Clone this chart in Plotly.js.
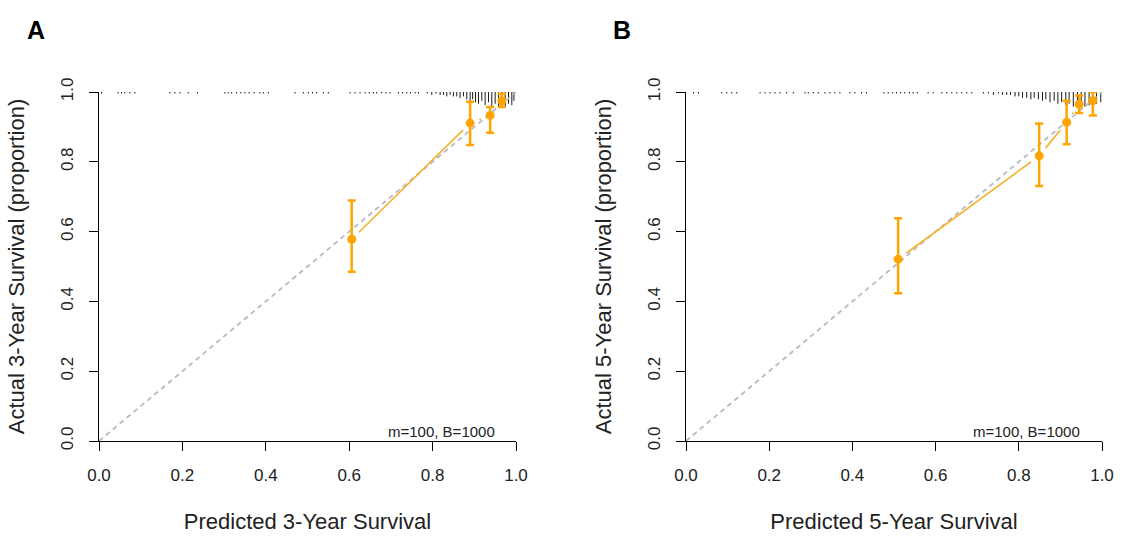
<!DOCTYPE html>
<html>
<head>
<meta charset="utf-8">
<script src="https://cdn.plot.ly/plotly-3.0.1.min.js"></script>
<style>
  html, body { margin: 0; padding: 0; background: #fff; }
  #chart { width: 1123px; height: 539px; }
</style>
</head>
<body>
<div id="chart"></div>
<script>
// ---- Calibration groups, 3-year model (panel A) ----
const predA   = [0.606, 0.890, 0.938, 0.966];
const actualA = [0.578, 0.911, 0.933, 0.975];
const lowerA  = [0.485, 0.848, 0.883, 0.957];
const upperA  = [0.689, 0.972, 0.957, 0.995];

// ---- Calibration groups, 5-year model (panel B) ----
const predB   = [0.510, 0.849, 0.915, 0.945, 0.978];
const actualB = [0.521, 0.817, 0.913, 0.965, 0.975];
const lowerB  = [0.423, 0.731, 0.850, 0.940, 0.933];
const upperB  = [0.638, 0.910, 0.975, 0.990, 1.000];

// ---- Distribution of predicted values (rug at the top), value and frequency ----
const rugXA = [0.006, 0.046, 0.054, 0.062, 0.074, 0.086, 0.170, 0.182, 0.194, 0.214, 0.236,
  0.302, 0.310, 0.318, 0.330, 0.340, 0.350, 0.360, 0.372, 0.386, 0.394, 0.406,
  0.470, 0.490, 0.502, 0.512, 0.522, 0.538, 0.550,
  0.602, 0.614, 0.626, 0.638, 0.648, 0.658, 0.666, 0.678, 0.688, 0.698,
  0.718, 0.728, 0.738, 0.747, 0.758, 0.766,
  0.787, 0.798, 0.808, 0.818, 0.826, 0.834, 0.842, 0.850, 0.858, 0.866, 0.874, 0.882,
  0.890, 0.896, 0.903, 0.910, 0.918, 0.926, 0.934, 0.942, 0.950, 0.958, 0.966, 0.974,
  0.982, 0.990, 0.995];
const rugNA = [1, 1, 1, 1, 1, 1, 1, 1, 1, 1, 1,
  1, 1, 1, 1, 1, 1, 1, 1, 1, 1, 1,
  1, 1, 1, 1, 1, 1, 1,
  1, 1, 1, 1, 1, 1, 1, 1, 1, 1,
  1, 1, 1, 1, 1, 1,
  1, 2, 1, 2, 2, 3, 2, 3, 3, 4, 3, 5,
  6, 5, 7, 8, 6, 9, 7, 10, 8, 10, 9, 10,
  8, 9, 6];

const rugXB = [0.018, 0.030, 0.086, 0.098, 0.110, 0.122,
  0.178, 0.190, 0.202, 0.214, 0.226, 0.242, 0.258,
  0.286, 0.294, 0.306, 0.318, 0.334, 0.346, 0.358, 0.370, 0.394, 0.406, 0.422, 0.434,
  0.476, 0.486, 0.497, 0.506, 0.516, 0.526, 0.537, 0.546, 0.556, 0.582, 0.594,
  0.615, 0.627, 0.639, 0.651, 0.663, 0.675, 0.687,
  0.715, 0.727, 0.739, 0.751, 0.761, 0.771, 0.780, 0.791, 0.800, 0.809, 0.819, 0.829,
  0.837, 0.847, 0.857, 0.865, 0.875, 0.885, 0.894, 0.903, 0.913, 0.921, 0.931, 0.941,
  0.950, 0.959, 0.969, 0.978, 0.987, 0.997];
const rugNB = [1, 1, 1, 1, 1, 1,
  1, 1, 1, 1, 1, 1, 1,
  1, 1, 1, 1, 1, 1, 1, 1, 1, 1, 1, 1,
  1, 1, 1, 1, 1, 1, 1, 1, 1, 1, 1,
  1, 1, 1, 1, 1, 1, 1,
  1, 1, 2, 1, 2, 2, 2, 3, 3, 4, 4, 5,
  4, 5, 6, 5, 7, 6, 8, 7, 9, 8, 10, 9,
  10, 10, 9, 10, 8, 7];

const tickVals = [0, 0.2, 0.4, 0.6, 0.8, 1.0];
const tickText = ['0.0', '0.2', '0.4', '0.6', '0.8', '1.0'];
const panelLabels = ['A', 'B'];
const xTitles = ['Predicted 3-Year Survival', 'Predicted 5-Year Survival'];
const yTitles = ['Actual 3-Year Survival (proportion)', 'Actual 5-Year Survival (proportion)'];
const noteText = 'm=100, B=1000';

// ---- page geometry ----
const W = 1123, H = 539;
const xDomA = [99 / W, 516 / W];
const xDomB = [686 / W, 1102 / W];
const yDom = [(H - 441) / H, (H - 92) / H];
const FONT = 'Liberation Sans, Arial, Helvetica, sans-serif';
const ORANGE = '#FFA500';

// rug spike length per observation, in data units
const RUG_UNIT = 0.0042;

function rugTrace(xs, ns, xa, ya) {
  const x = [], y = [];
  xs.forEach((v, i) => {
    x.push(v, v, null);
    y.push(1.0, 1.0 - ns[i] * RUG_UNIT, null);
  });
  return { type: 'scatter', mode: 'lines', x, y, xaxis: xa, yaxis: ya,
    line: { color: '#1a1a1a', width: 1 }, hoverinfo: 'skip', showlegend: false };
}

function diagTrace(xa, ya) {
  return { type: 'scatter', mode: 'lines', x: [0, 1], y: [0, 1], xaxis: xa, yaxis: ya,
    line: { color: '#b9b9c6', width: 1.8, dash: '5px,4px' }, hoverinfo: 'skip', showlegend: false };
}

// line joining the groups, broken around each point (like type = "b")
function joinTrace(px, py, xDom, xa, ya) {
  const sx = W * (xDom[1] - xDom[0]);
  const sy = H * (yDom[1] - yDom[0]);
  const gap = 10;
  const x = [], y = [];
  for (let i = 0; i < px.length - 1; i++) {
    const dxp = (px[i + 1] - px[i]) * sx;
    const dyp = (py[i + 1] - py[i]) * sy;
    const len = Math.hypot(dxp, dyp);
    if (len <= 2 * gap + 1) continue;
    const f = gap / len;
    const dx = px[i + 1] - px[i], dy = py[i + 1] - py[i];
    x.push(px[i] + f * dx, px[i + 1] - f * dx, null);
    y.push(py[i] + f * dy, py[i + 1] - f * dy, null);
  }
  return { type: 'scatter', mode: 'lines', x, y, xaxis: xa, yaxis: ya,
    line: { color: '#F4B12E', width: 1.6 }, hoverinfo: 'skip', showlegend: false };
}

function pointTrace(px, py, lo, hi, xa, ya) {
  return { type: 'scatter', mode: 'markers', x: px, y: py, xaxis: xa, yaxis: ya,
    marker: { color: ORANGE, size: 9 },
    error_y: { type: 'data', symmetric: false,
      array: hi.map((h, i) => h - py[i]),
      arrayminus: lo.map((l, i) => py[i] - l),
      color: ORANGE, thickness: 2.5, width: 4 },
    cliponaxis: false, showlegend: false };
}

const data = [
  rugTrace(rugXA, rugNA, 'x', 'y'),
  diagTrace('x', 'y'),
  joinTrace(predA, actualA, xDomA, 'x', 'y'),
  pointTrace(predA, actualA, lowerA, upperA, 'x', 'y'),
  rugTrace(rugXB, rugNB, 'x2', 'y2'),
  diagTrace('x2', 'y2'),
  joinTrace(predB, actualB, xDomB, 'x2', 'y2'),
  pointTrace(predB, actualB, lowerB, upperB, 'x2', 'y2')
];

function xAxis(dom, title, anchor) {
  return { domain: dom, anchor, range: [0, 1], autorange: false, fixedrange: true,
    showgrid: false, zeroline: false, showline: true, linecolor: '#000', linewidth: 1,
    ticks: 'outside', ticklen: 9, tickwidth: 1, tickcolor: '#000',
    tickvals: tickVals, ticktext: tickText, ticklabelstandoff: 10,
    tickfont: { family: FONT, size: 17, color: '#222' },
    title: { text: title, font: { family: FONT, size: 22, color: '#222' }, standoff: 29 } };
}
function yAxis(title, anchor) {
  return { domain: yDom, anchor, range: [0, 1], autorange: false, fixedrange: true,
    showgrid: false, zeroline: false, showline: true, linecolor: '#000', linewidth: 1,
    ticks: 'outside', ticklen: 9, tickwidth: 1, tickcolor: '#000',
    tickvals: tickVals, ticktext: tickText, tickangle: -90, ticklabelstandoff: 9,
    tickfont: { family: FONT, size: 17, color: '#222' },
    title: { text: title, font: { family: FONT, size: 22, color: '#222' }, standoff: 27 } };
}

const layout = {
  width: W, height: H,
  margin: { l: 0, r: 0, t: 0, b: 0 },
  paper_bgcolor: '#fff', plot_bgcolor: '#fff',
  showlegend: false,
  xaxis: xAxis(xDomA, xTitles[0], 'y'),
  yaxis: yAxis(yTitles[0], 'x'),
  xaxis2: xAxis(xDomB, xTitles[1], 'y2'),
  yaxis2: yAxis(yTitles[1], 'x2'),
  annotations: [
    { text: '<b>' + panelLabels[0] + '</b>', xref: 'paper', yref: 'paper',
      x: 36 / W, y: 1 - 30 / H, xanchor: 'center', yanchor: 'middle', showarrow: false,
      font: { family: FONT, size: 25, color: '#000' } },
    { text: '<b>' + panelLabels[1] + '</b>', xref: 'paper', yref: 'paper',
      x: 622 / W, y: 1 - 30 / H, xanchor: 'center', yanchor: 'middle', showarrow: false,
      font: { family: FONT, size: 25, color: '#000' } },
    { text: noteText, xref: 'x', yref: 'y', x: 0.954, y: 0.027,
      xanchor: 'right', yanchor: 'middle', showarrow: false,
      font: { family: FONT, size: 15, color: '#222' } },
    { text: noteText, xref: 'x2', yref: 'y2', x: 0.952, y: 0.027,
      xanchor: 'right', yanchor: 'middle', showarrow: false,
      font: { family: FONT, size: 15, color: '#222' } }
  ]
};

Plotly.newPlot('chart', data, layout, { staticPlot: true, displayModeBar: false });
</script>
</body>
</html>
